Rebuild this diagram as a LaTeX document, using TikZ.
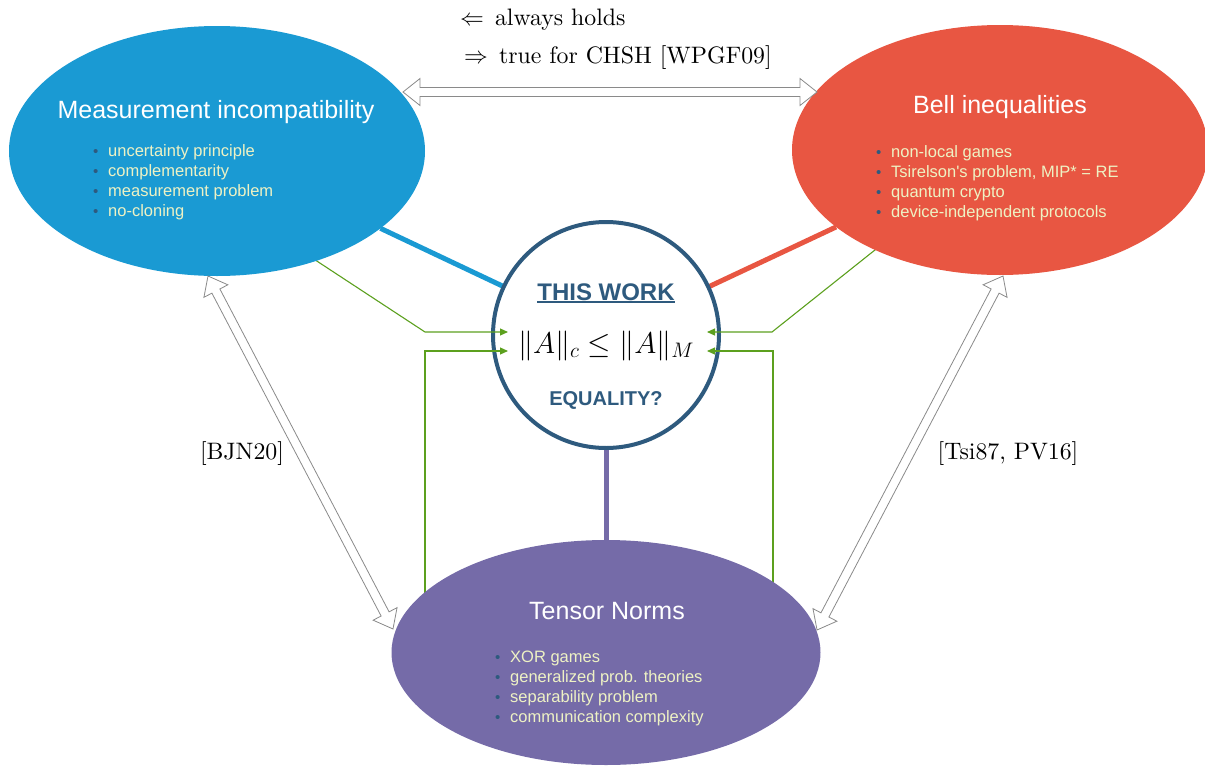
\RequirePackage{fix-cm}
\documentclass[tikz,border=0pt]{standalone}
\usepackage{fontspec}
\newfontfamily\arial{Liberation Sans}
\newfontfamily\lmten{lmroman10-regular.otf}
\usetikzlibrary{shapes.geometric,calc,arrows.meta}
\definecolor{miblue}{HTML}{1A9AD3}
\definecolor{bired}{HTML}{E85642}
\definecolor{tnpurple}{HTML}{756BA8}
\definecolor{twblue}{HTML}{2E5A7E}
\definecolor{listtext}{HTML}{EEF2C4}
\definecolor{greenc}{HTML}{5CA01E}
\definecolor{hollowgray}{HTML}{8A8A8A}
\newcommand\bitem[1]{\makebox[15pt][l]{\textcolor{twblue}{\fontsize{15}{15}\selectfont\raisebox{0pt}{•}}}#1}
\newcommand\thickul[1]{\setbox0\hbox{#1}\rlap{\rule[-3.3pt]{\wd0}{2.8pt}}\box0}
\newcommand\hollowarrow[2]{%
  \path let \p1=($(#2)-(#1)$), \n1={atan2(\y1,\x1)}, \n2={veclen(\x1,\y1)} in
    \pgfextra{\xdef\harrang{\n1}\xdef\harrlen{\n2}};
  \draw[hollowstyle, shift={(#1)}, rotate=\harrang]
    (0pt,0pt) -- (17pt,13.5pt) -- (17pt,4.5pt) -- ({\harrlen-17pt},4.5pt)
    -- ({\harrlen-17pt},13.5pt) -- (\harrlen,0pt) -- ({\harrlen-17pt},-13.5pt)
    -- ({\harrlen-17pt},-4.5pt) -- (17pt,-4.5pt) -- (17pt,-13.5pt) -- cycle;
}
\tikzset{
  blob/.style={ellipse, inner sep=0pt, outer sep=0pt},
  titletext/.style={font=\arial\fontsize{25}{30}\selectfont, text=white, inner sep=0pt},
  listnode/.style={font=\arial\fontsize{16.5}{20}\selectfont, text=listtext, align=left, inner sep=0pt, anchor=west},
  thickline/.style={line width=5pt},
  greenarrow/.style={draw=greenc, line width=1.1pt, -{Triangle[length=8pt,width=7pt]}},
  hollowstyle/.style={draw=hollowgray, line width=0.8pt, fill=white},
  lmtext/.style={font=\lmten\fontsize{23.8}{28}\selectfont, inner sep=0pt},
}
\begin{document}
\begin{tikzpicture}[x=1pt,y=-1pt]
\useasboundingbox (0,0) rectangle (1205,766);
% main blobs
\node[blob, minimum width=416pt, minimum height=250pt] (mi) at (217,151) {};
\node[blob, minimum width=416pt, minimum height=250pt] (bi) at (1000,150) {};
\node[blob, minimum width=429pt, minimum height=225pt] (tn) at (606,652.5) {};
\node[circle, minimum size=226pt, inner sep=0pt, outer sep=0pt] (tw) at (606,335) {};
% thick connectors
\draw[thickline, miblue] (mi) -- (tw);
\draw[thickline, bired] (bi) -- (tw);
\draw[thickline, tnpurple] (tw) -- (tn);
% circle
\draw[twblue, line width=4pt, fill=white] (tw.center) circle (113pt);
% green arrows
\coordinate (g1s) at (300,250);
\coordinate (g1b) at (425,332);
\coordinate (g1e) at (508,332);
\coordinate (g2s) at (425,610);
\coordinate (g2b) at (425,351);
\coordinate (g2e) at (508,351);
\coordinate (g3s) at (890,238);
\coordinate (g3b) at (772,332);
\coordinate (g3e) at (707,332);
\coordinate (g4s) at (773,600);
\coordinate (g4b) at (773,351);
\coordinate (g4e) at (707,351);
\draw[greenarrow] (g1s) -- (g1b) -- (g1e);
\draw[greenarrow] (g2s) -- (g2b) -- (g2e);
\draw[greenarrow] (g3s) -- (g3b) -- (g3e);
\draw[greenarrow] (g4s) -- (g4b) -- (g4e);
% blob fills
\fill[miblue] (mi.center) ellipse [x radius=208pt, y radius=125pt];
\fill[bired] (bi.center) ellipse [x radius=208pt, y radius=125pt];
\fill[tnpurple] (tn.center) ellipse [x radius=214.5pt, y radius=112.5pt];
% titles
\node[titletext] (mititle) at (216,112) {Measurement incompatibility};
\node[titletext] (bititle) at (1000,107) {Bell inequalities};
\node[titletext] (tntitle) at (607,611) {Tensor Norms};
% lists
\node[listnode] (milist) at (93,182) {\bitem{uncertainty principle}\\\bitem{complementarity}\\\bitem{measurement problem}\\\bitem{no-cloning}};
\node[listnode] (bilist) at (876,183) {\bitem{non-local games}\\\bitem{Tsirelson's problem, MIP* = RE}\\\bitem{quantum crypto}\\\bitem{device-independent protocols}};
\node[listnode] (tnlist) at (495,688) {\bitem{XOR games}\\\bitem{generalized prob. theories}\\\bitem{separability problem}\\\bitem{communication complexity}};
% circle texts
\node[font=\arial\bfseries\fontsize{24}{28}\selectfont, text=twblue, inner sep=0pt, anchor=base] (thiswork) at (606,300) {\thickul{THIS WORK}};
\node[font=\fontsize{30}{36}\selectfont, inner sep=0pt, anchor=base] (ineq) at (606,353) {$\|A\|_c \le \|A\|_M$};
\node[font=\arial\bfseries\fontsize{20}{24}\selectfont, text=twblue, inner sep=0pt, anchor=base] (equality) at (606,405) {EQUALITY?};
% top legend
\node[lmtext, anchor=base west] (leg1) at (460,25) {$\Leftarrow$\hspace{11pt}always holds};
\node[lmtext, anchor=base west] (leg2) at (464,63) {$\Rightarrow$\hspace{11pt}true for CHSH [WPGF09]};
% citation labels
\node[lmtext] (bjn) at (242,454) {[BJN20]};
\node[lmtext] (tsi) at (1008,454) {[Tsi87, PV16]};
% hollow double arrows
\coordinate (topL) at (403,92);
\coordinate (topR) at (817,92);
\coordinate (leftU) at (208,276);
\coordinate (leftD) at (393,629);
\coordinate (rightU) at (1003,276);
\coordinate (rightD) at (817,630);
\hollowarrow{topL}{topR}
\hollowarrow{leftU}{leftD}
\hollowarrow{rightU}{rightD}
\end{tikzpicture}
\end{document}
